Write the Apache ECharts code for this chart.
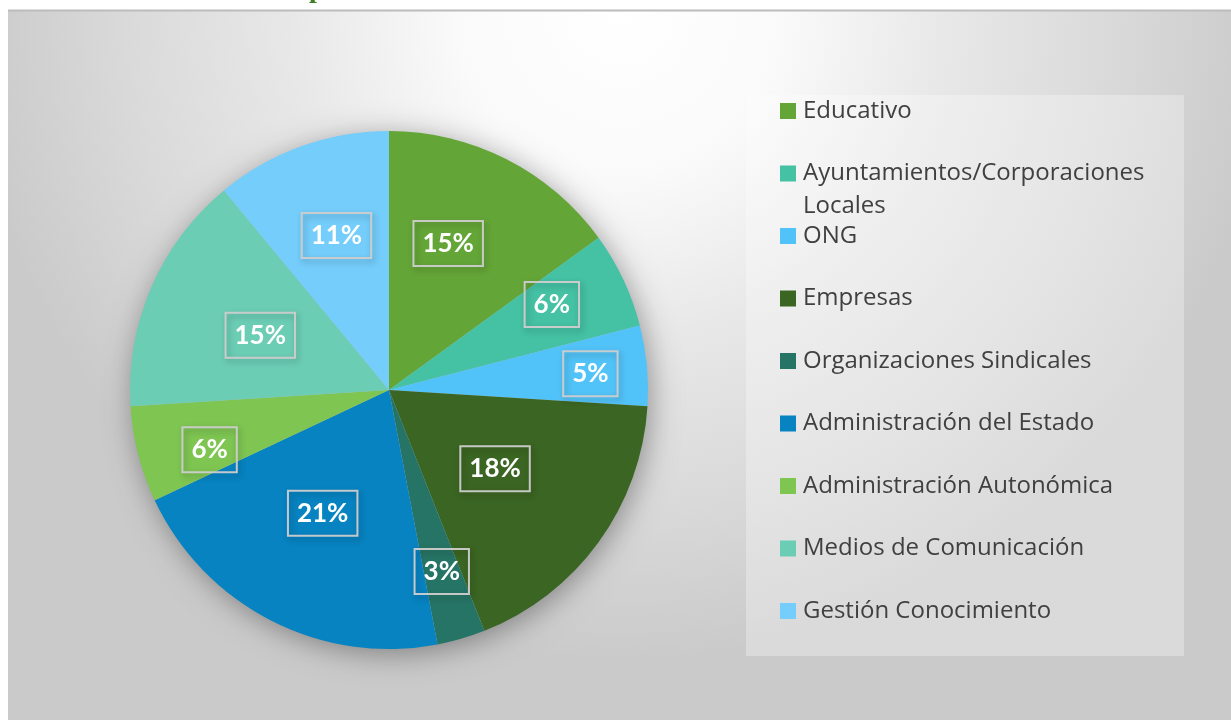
<!DOCTYPE html>
<html>
<head>
<meta charset="utf-8">
<script src="https://cdn.jsdelivr.net/npm/echarts@6/dist/echarts.min.js"></script>
<style>
  html, body { margin: 0; padding: 0; background: #fff; }
  #chart { width: 1231px; height: 720px; }
</style>
</head>
<body>
<div id="chart"></div>
<script>
// categorias y porcentajes
const categorias = [
  'Educativo',
  'Ayuntamientos/Corporaciones\nLocales',
  'ONG',
  'Empresas',
  'Organizaciones Sindicales',
  'Administración del Estado',
  'Administración Autonómica',
  'Medios de Comunicación',
  'Gestión Conocimiento'
]
const porcentajes = [15, 6, 5, 18, 3, 21, 6, 15, 11]

const colores = ['#64a537', '#45c1a4', '#52c3f8', '#3b6522', '#267465', '#0783c1', '#7ec552', '#6ccdb5', '#74cdfa']
// posicion de cada etiqueta: fraccion del radio y giro (grados) sobre el centro del sector
const labelDist = [0.61, 0.71, 0.78, 0.51, 0.73, 0.54, 0.73, 0.54, 0.63]
const labelGiro = [-5, -2.5, 0.8, 0.6, 0, 1.3, -4, -0.4, 1]

const CX = 389
const CY = 390
const R = 259

const chart = echarts.init(document.getElementById('chart'))

const total = porcentajes.reduce((a, b) => a + b, 0)
const midAngle = []
let acc = 0
porcentajes.forEach(v => {
  midAngle.push((acc + v / 2) / total * Math.PI * 2)
  acc += v
})

// la leyenda solo pinta la primera linea, la segunda va aparte
const segundaLinea = categorias[1].split('\n')[1]

const option = {
  animation: false,
  color: colores,
  graphic: [
    {
      type: 'rect',
      z: -10,
      shape: { x: 8, y: 11, width: 1223, height: 709 },
      style: {
        fill: new echarts.graphic.RadialGradient(0.5, 0, 0.92, [
          { offset: 0, color: '#ffffff' },
          { offset: 0.25, color: '#fafafa' },
          { offset: 0.5, color: '#e8e8e8' },
          { offset: 0.75, color: '#dadada' },
          { offset: 1, color: '#cacaca' }
        ])
      }
    },
    {
      type: 'line',
      z: -9,
      shape: { x1: 8, y1: 10.5, x2: 1231, y2: 10.5 },
      style: { stroke: '#bcbcbc', lineWidth: 2 }
    },
    {
      type: 'rect',
      z: -8,
      shape: { x: 746, y: 95, width: 438, height: 561 },
      style: { fill: 'rgba(255,255,255,0.3)' }
    },
    {
      type: 'text',
      z: -8,
      x: 309,
      y: -24,
      style: { text: 'p', fill: '#3f7f24', font: 'bold 28px "Liberation Serif"' }
    },
    {
      // sombra del pastel
      type: 'circle',
      z: -5,
      shape: { cx: CX, cy: CY, r: R - 1 },
      style: {
        fill: '#bbbbbb',
        shadowBlur: 30,
        shadowOffsetX: 3,
        shadowOffsetY: 5,
        shadowColor: 'rgba(0,0,0,0.38)'
      },
      silent: true
    },
    {
      type: 'text',
      x: 803,
      y: 206,
      style: {
        text: segundaLinea,
        fill: '#404040',
        font: '24px "Open Sans"',
        verticalAlign: 'middle'
      }
    }
  ],
  legend: {
    data: categorias,
    orient: 'vertical',
    left: 775,
    top: 94,
    padding: 5,
    itemWidth: 16,
    itemHeight: 16,
    itemGap: 38.5,
    icon: 'rect',
    selectedMode: false,
    formatter: name => name.split('\n')[0],
    textStyle: {
      fontFamily: 'Open Sans',
      fontSize: 24,
      color: '#404040',
      lineHeight: 24,
      padding: [0, 0, 0, 2]
    }
  },
  series: [
    {
      type: 'pie',
      z: 2,
      center: [CX, CY],
      radius: R,
      startAngle: 90,
      clockwise: true,
      data: categorias.map((name, i) => ({ name, value: porcentajes[i] })),
      itemStyle: { borderWidth: 0 },
      label: {
        show: true,
        position: 'inside',
        formatter: p => p.value + '%',
        fontFamily: 'Lato',
        fontWeight: 'bold',
        fontSize: 26,
        color: '#ffffff',
        lineHeight: 27,
        borderColor: 'rgba(205,205,205,0.95)',
        borderWidth: 2,
        padding: [10, 9, 8, 9],
        shadowBlur: 6,
        shadowOffsetX: 2,
        shadowOffsetY: 3,
        shadowColor: 'rgba(0,0,0,0.3)'
      },
      labelLine: { show: false },
      labelLayout: params => {
        const i = params.dataIndex
        const a = midAngle[i] + labelGiro[i] * Math.PI / 180
        return {
          x: CX + Math.sin(a) * R * labelDist[i],
          y: CY - Math.cos(a) * R * labelDist[i],
          align: 'center',
          verticalAlign: 'middle'
        }
      }
    }
  ]
}

chart.setOption(option)
</script>
</body>
</html>
